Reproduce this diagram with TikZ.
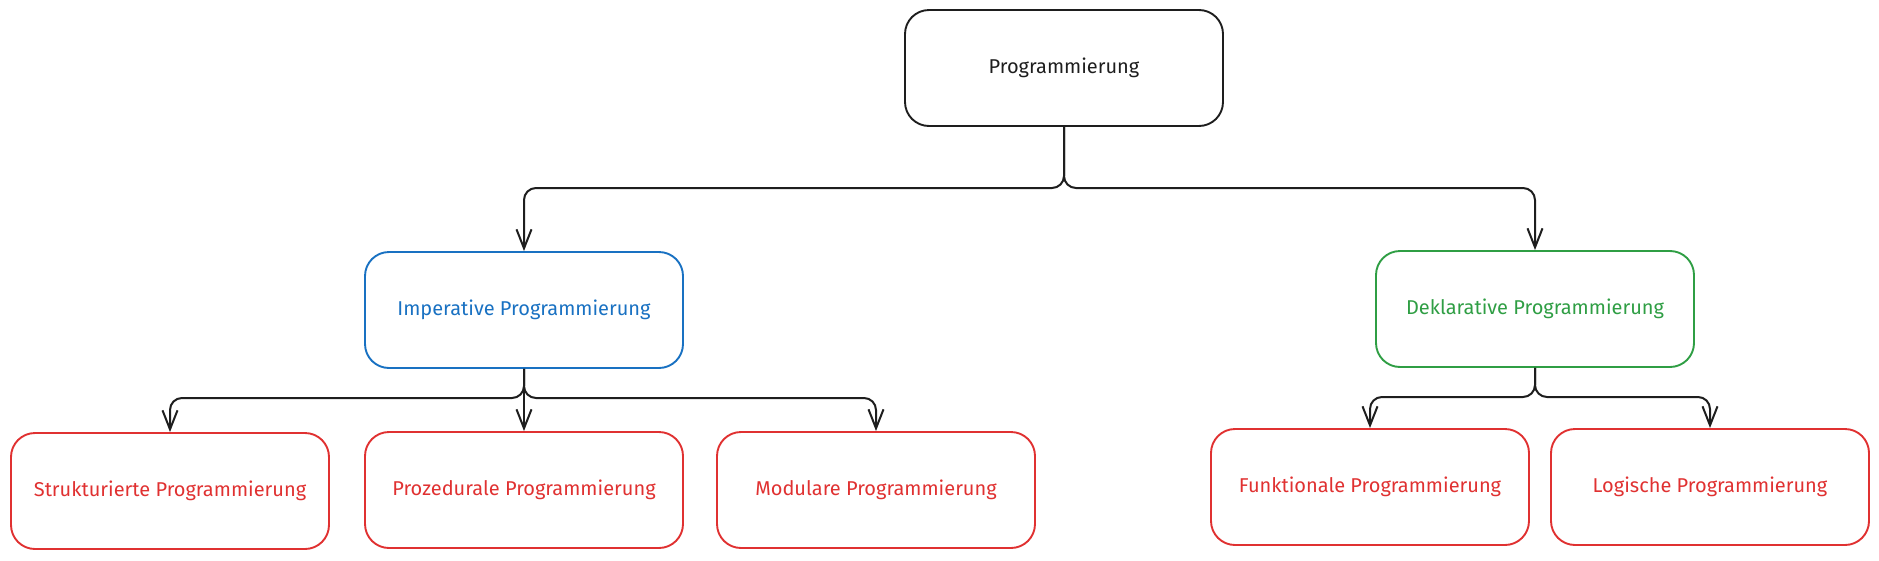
\documentclass[tikz,border=0pt]{standalone}
\usepackage{fontspec}
\setmainfont{Fira Sans}
\usetikzlibrary{arrows.meta,positioning}
\definecolor{exblack}{HTML}{1E1E1E}
\definecolor{exblue}{HTML}{1971C2}
\definecolor{exgreen}{HTML}{2F9E44}
\definecolor{exred}{HTML}{E03131}
\tikzset{
  box/.style={draw, line width=1.9pt, rounded corners=24pt, minimum width=318pt, minimum height=116pt, align=center, font=\fontsize{20}{24}\selectfont, inner sep=0pt},
  rootbox/.style={box, draw=exblack, text=exblack},
  impbox/.style={box, draw=exblue, text=exblue},
  dekbox/.style={box, draw=exgreen, text=exgreen},
  leafbox/.style={box, draw=exred, text=exred},
  conn/.style={draw=exblack, line width=2pt, rounded corners=12pt, -{Straight Barb[length=19pt,width=15pt,line width=2pt]}}
}
\begin{document}
\begin{tikzpicture}[x=1pt,y=-1pt]
\useasboundingbox (0,0) rectangle (1879,560);
\node[rootbox] (root) at (1064,68) {Programmierung};
\node[impbox] (imp) at (524,310) {Imperative Programmierung};
\node[dekbox] (dek) at (1535,309) {Deklarative Programmierung};
\node[leafbox] (str) at (170,491) {Strukturierte Programmierung};
\node[leafbox] (pro) at (524,490) {Prozedurale Programmierung};
\node[leafbox] (mod) at (876,490) {Modulare Programmierung};
\node[leafbox] (fun) at (1370,487) {Funktionale Programmierung};
\node[leafbox] (log) at (1710,487) {Logische Programmierung};
\coordinate (j1) at (1064,188);
\coordinate (j2) at (524,398);
\coordinate (j3) at (1535,397);
\draw[conn] (root.south) -- (j1) -| (imp.north);
\draw[conn] (root.south) -- (j1) -| (dek.north);
\draw[conn] (imp.south) -- (j2) -| (str.north);
\draw[conn] (imp.south) -- (pro.north);
\draw[conn] (imp.south) -- (j2) -| (mod.north);
\draw[conn] (dek.south) -- (j3) -| (fun.north);
\draw[conn] (dek.south) -- (j3) -| (log.north);
\end{tikzpicture}
\end{document}
